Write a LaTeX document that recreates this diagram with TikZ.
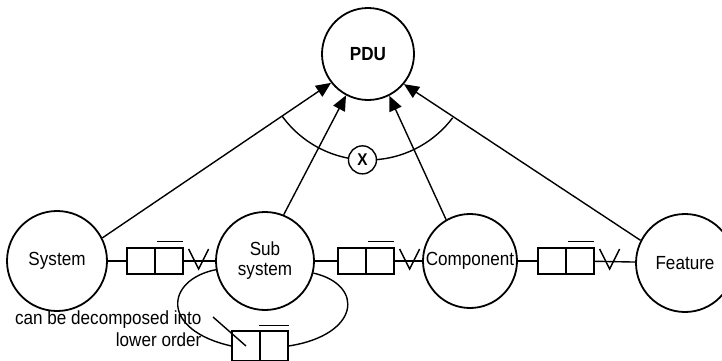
\documentclass[tikz,border=0pt]{standalone}
\usepackage{fontspec}
\setmainfont[FakeStretch=0.9]{Liberation Sans}
\usetikzlibrary{arrows.meta,calc}

\begin{document}
\begin{tikzpicture}[x=1pt,y=1pt,
    every node/.style={font=\fontsize{19}{20}\selectfont},
    entity/.style={draw, circle, line width=1.8pt, inner sep=0pt, align=center},
    half/.style={draw, line width=1.2pt, minimum width=28pt, minimum height=26pt, inner sep=0pt},
    link/.style={line width=1.4pt},
    toPDU/.style={link, -{Triangle[length=15pt,width=13pt]}}]
    \useasboundingbox (0,0) rectangle (722,360);
    \clip (0,0) rectangle (722,360);

    % entities
    \node[entity, minimum size=92pt, font=\fontsize{19}{20}\selectfont\bfseries] (pdu) at (368,306) {PDU};
    \node[entity, minimum size=100pt] (sys) at (57,99) {System};
    \node[entity, minimum size=98pt] (sub) at (265,99) {Sub\\system};
    \node[entity, minimum size=94pt] (comp) at (470,99) {Component};
    \node[entity, minimum size=98pt] (feat) at (685,97) {Feature};

    % relation boxes
    \node[half] (a1) at (141,99) {};
    \node[half] (a2) at (169,99) {};
    \node[half] (b1) at (352,99) {};
    \node[half] (b2) at (380,99) {};
    \node[half] (c1) at (552,99) {};
    \node[half] (c2) at (580,99) {};
    \node[half, minimum height=30pt] (d1) at (246,14) {};
    \node[half, minimum height=30pt] (d2) at (274,14) {};

    \draw[link] (sys) -- (a1);
    \draw[link] (a2) -- (sub);
    \draw[link] (sub) -- (b1);
    \draw[link] (b2) -- (comp);
    \draw[link] (comp) -- (c1);
    \draw[link] (c2) -- (feat);

    % bars and crow feet
    \foreach \b in {a2,b2,c2} {
        \draw[link] ($(\b.north west)+(3,6)$) -- ($(\b.north east)+(-1,6)$);
        \draw[link] ($(\b.east)+(5,12)$) -- ($(\b.east)+(15,-8)$) -- ($(\b.east)+(25,12)$);
    }
    \draw[link] ($(d2.north west)+(0,5)$) -- ($(d2.north east)+(0,5)$);

    % decomposition loop
    \draw[link] (sub.190) .. controls (165,80) and (160,30) .. (d1.west);
    \draw[link] (sub.-14) .. controls (365,75) and (360,25) .. (d2.east);
    \node[anchor=east, align=right] (decomp) at (205,31) {can be decomposed into\\[2pt]lower order};
    \coordinate (lead) at (213,43);
    \draw[link] (lead) -- (d1.center);

    % realisation of PDU
    \draw[toPDU] (sys.27) -- (pdu.218);
    \draw[toPDU] (sub.68) -- (pdu.242);
    \draw[toPDU] (comp.120) -- (pdu.297);
    \draw[toPDU] (feat.153) -- (pdu.320);

    \draw[link] (pdu.center) ++(216:106) arc[start angle=216, end angle=323, radius=106];
    \node[draw, circle, line width=1.4pt, fill=white, minimum size=28pt, inner sep=0pt,
        font=\fontsize{17}{20}\selectfont\bfseries] (x) at ($(pdu.center)+(267:106)$) {X};
\end{tikzpicture}
\end{document}
